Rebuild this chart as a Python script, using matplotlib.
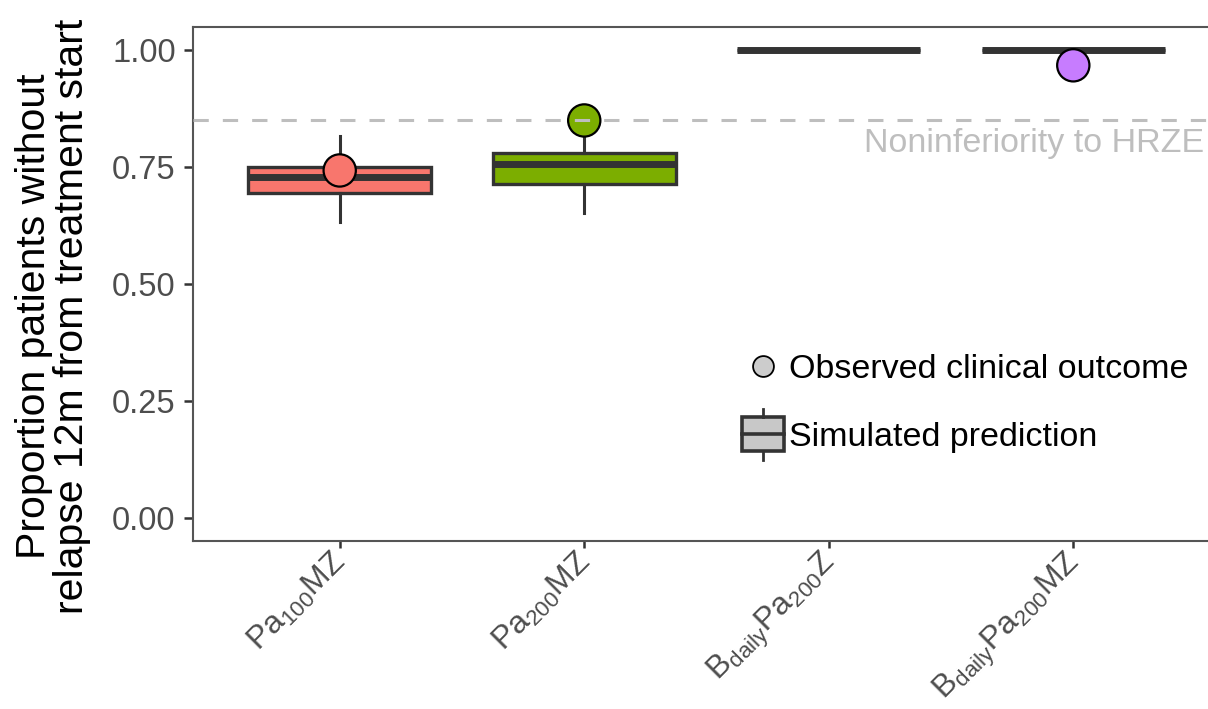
import numpy as np
import matplotlib
matplotlib.use("Agg")
import matplotlib.pyplot as plt
import matplotlib.transforms as mtransforms
from matplotlib.lines import Line2D
from matplotlib.patches import Rectangle
from matplotlib.legend_handler import HandlerBase

plt.rcParams['font.family'] = ['Liberation Sans', 'DejaVu Sans']
plt.rcParams['mathtext.fontset'] = 'custom'
plt.rcParams['mathtext.rm'] = 'Liberation Sans'
plt.rcParams['mathtext.it'] = 'Liberation Sans:italic'
plt.rcParams['mathtext.bf'] = 'Liberation Sans:bold'

# regimens and simulated relapse-free proportions (box summaries)
regimens = [r'$\mathrm{Pa_{100}MZ}$', r'$\mathrm{Pa_{200}MZ}$',
            r'$\mathrm{B_{daily}Pa_{200}Z}$', r'$\mathrm{B_{daily}Pa_{200}MZ}$']
q1 = [0.695, 0.715, 1.0, 1.0]
med = [0.729, 0.757, 1.0, 1.0]
q3 = [0.750, 0.780, 1.0, 1.0]
whislo = [0.632, 0.651, 1.0, 1.0]
whishi = [0.816, 0.815, 1.0, 1.0]
colors = ['#F8766D', '#7CAE00', '#00BFC4', '#C77CFF']

# observed clinical outcomes (none for regimen 3)
obs_pos = [1, 2, 4]
obs_val = [0.743, 0.85, 0.968]
obs_col = ['#F8766D', '#7CAE00', '#C77CFF']

noninf = 0.85

dark = '#333333'
fig = plt.figure(figsize=(12.08, 7.09), dpi=100)
ax = fig.add_axes([193 / 1208, 168 / 709, 1027 / 1208, 514 / 709])

stats = []
for i in range(4):
    stats.append(dict(med=med[i], q1=q1[i], q3=q3[i], whislo=whislo[i],
                      whishi=whishi[i], fliers=[]))
bp = ax.bxp(stats, positions=[1, 2, 3, 4], widths=0.75, patch_artist=True,
            showcaps=False, showfliers=False,
            boxprops=dict(edgecolor=dark, linewidth=2.4),
            medianprops=dict(color=dark, linewidth=5.0, solid_capstyle='butt'),
            whiskerprops=dict(color=dark, linewidth=2.2))
for patch, c in zip(bp['boxes'], colors):
    patch.set_facecolor(c)

ax.scatter(obs_pos, obs_val, s=540, c=obs_col, edgecolors='black',
           linewidths=1.6, zorder=4)

ax.axhline(noninf, color='#BEBEBE', linewidth=2.2, linestyle=(0, (5, 4.6)),
           zorder=5)
ax.text(4.536, noninf - 0.016, 'Noninferiority to HRZE', color='#BEBEBE',
        fontsize=24.5, ha='right', va='top')

ax.set_xlim(0.4, 4.6)
ax.set_ylim(-0.05, 1.05)
ax.set_yticks([0, 0.25, 0.5, 0.75, 1.0])
ax.set_yticklabels(['0.00', '0.25', '0.50', '0.75', '1.00'])
ax.set_xticks([1, 2, 3, 4])
ax.set_xticklabels(regimens, rotation=45, ha='right', va='top',
                   rotation_mode='anchor')
ax.tick_params(axis='both', colors=dark, width=1.8, length=6.5,
               labelcolor='#4D4D4D', labelsize=23.5)
ax.tick_params(axis='y', pad=6)
ax.tick_params(axis='x', labelsize=23, length=5, pad=2)
shift = mtransforms.ScaledTranslation(-9 / 100, 4 / 100, fig.dpi_scale_trans)
for lab in ax.get_xticklabels():
    lab.set_transform(lab.get_transform() + shift)
for s in ax.spines.values():
    s.set_color('#555555')
    s.set_linewidth(1.5)

fig.text(53 / 1208, 1 - 316 / 709,
         'Proportion patients without\nrelapse 12m from treatment start',
         rotation=90, ha='center', va='center', fontsize=29.5,
         linespacing=1.0)


class BoxHandler(HandlerBase):
    def create_artists(self, legend, orig, xd, yd, w, h, fontsize, trans):
        cx = xd + w / 2
        bw = w * 1.0
        bh = h * 1.45
        by = yd + h / 2 - bh / 2
        rect = Rectangle((cx - bw / 2, by), bw, bh, facecolor='#C8C8C8',
                         edgecolor=dark, linewidth=2.6, transform=trans)
        mid = Line2D([cx - bw / 2, cx + bw / 2], [yd + h / 2] * 2,
                     color=dark, linewidth=2.6, transform=trans)
        w1 = Line2D([cx, cx], [by + bh, by + bh + h * 0.35], color=dark,
                    linewidth=2.0, transform=trans)
        w2 = Line2D([cx, cx], [by, by - h * 0.35], color=dark,
                    linewidth=2.0, transform=trans)
        return [rect, mid, w1, w2]


h_obs = Line2D([], [], marker='o', linestyle='none', markersize=15,
               markerfacecolor='#CCCCCC', markeredgecolor='black',
               markeredgewidth=1.3)
h_sim = Rectangle((0, 0), 1, 1)
leg = ax.legend([h_obs, h_sim],
                ['Observed clinical outcome', 'Simulated prediction'],
                handler_map={Rectangle: BoxHandler()},
                loc='upper left', bbox_to_anchor=(0.521, 0.391),
                bbox_transform=ax.transAxes, frameon=False, fontsize=24.5,
                handlelength=1.25, handletextpad=0.15, labelspacing=1.1,
                borderaxespad=0)

fig.savefig('out.png', dpi=100)
